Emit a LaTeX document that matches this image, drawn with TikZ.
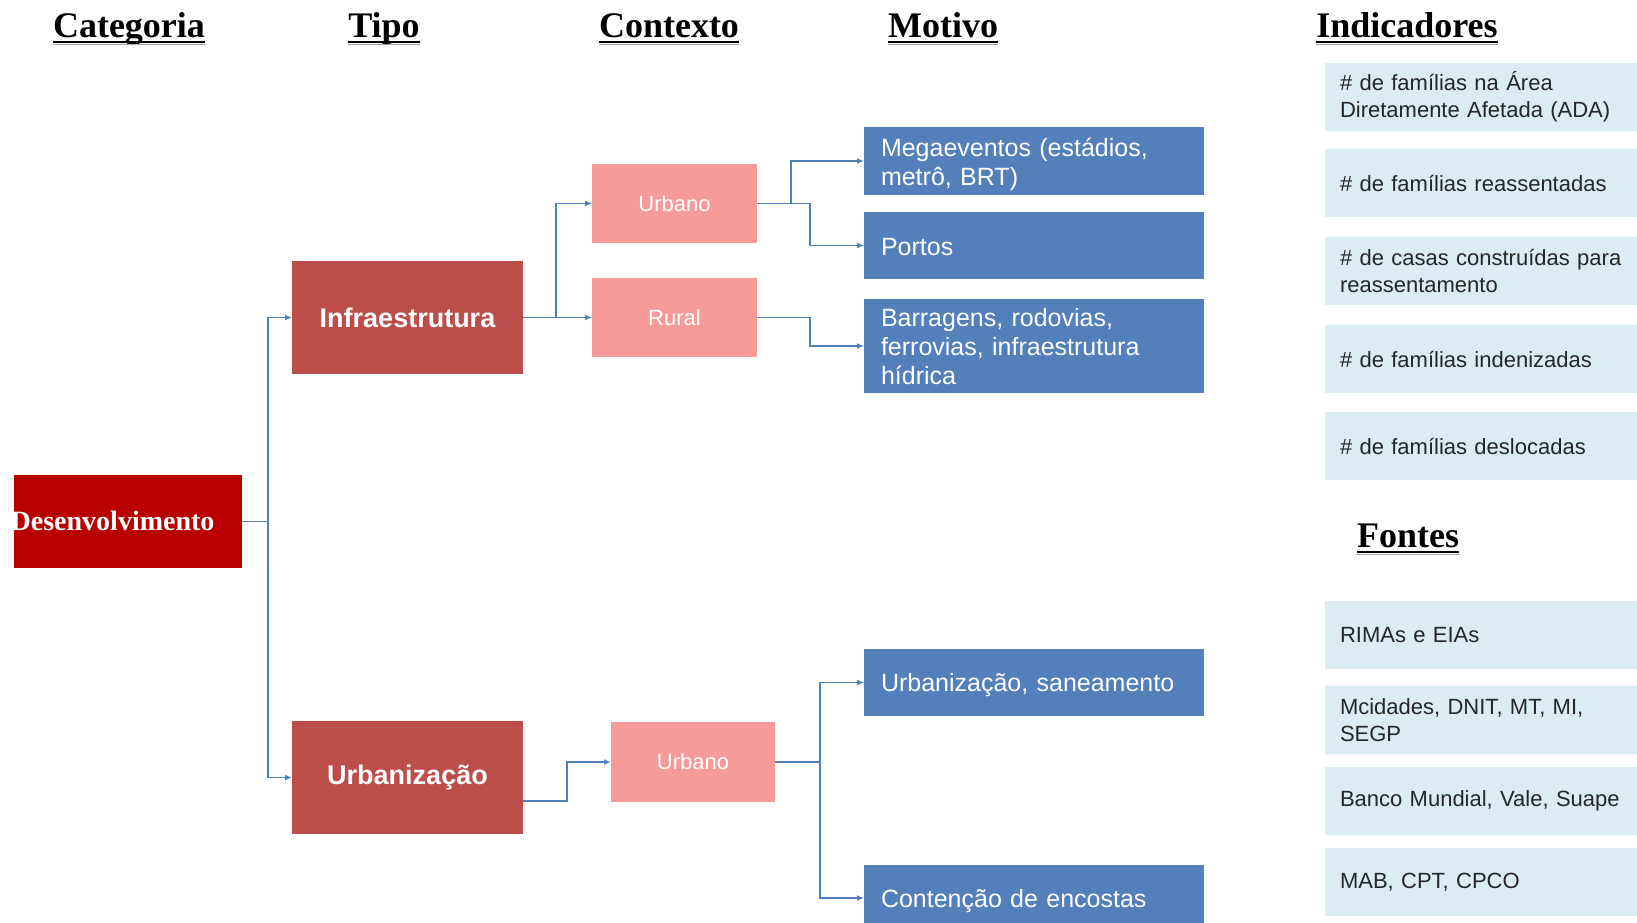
\documentclass[tikz,border=0pt]{standalone}
\usepackage{fontspec}
\setmainfont{Liberation Serif}
\setsansfont{Liberation Sans}
\usetikzlibrary{arrows.meta}
\definecolor{cdes}{HTML}{B80000}
\definecolor{ctipo}{HTML}{BB4D4B}
\definecolor{cctx}{HTML}{F69A9A}
\definecolor{cmot}{HTML}{5380BB}
\definecolor{cind}{HTML}{DBEDF3}
\definecolor{cline}{HTML}{4F7FBD}
\begin{document}
\begin{tikzpicture}[x=1pt,y=-1pt,
 box/.style={draw=none, inner sep=0pt, outer sep=0pt},
 hdr/.style={font=\bfseries\fontsize{36}{40}\selectfont, inner sep=0pt, anchor=base},
 uline/.style={line width=2.5pt, black},
 ushadow/.style={line width=1.5pt, black!35},
 desbox/.style={box, fill=cdes, minimum width=228pt, minimum height=93pt},
 tipo/.style={box, fill=ctipo, minimum width=231pt, minimum height=113pt, text=white, font=\sffamily\bfseries\fontsize{27}{31}\selectfont},
 ctx/.style={box, fill=cctx, minimum width=165pt, minimum height=79pt, text=white, font=\sffamily\fontsize{22}{26}\selectfont},
 mot/.style={box, fill=cmot, minimum width=340pt},
 mottxt/.style={inner sep=0pt, text width=306pt, align=left, text=white, font=\sffamily\fontsize{25}{29}\selectfont},
 ind/.style={box, fill=cind, text width=320pt, inner xsep=15pt, minimum height=68pt, align=left, text=black!85, font=\sffamily\fontsize{22}{27}\selectfont},
 conn/.style={cline, line width=1.5pt, -{Latex[length=7pt,width=6pt]}},
]
\useasboundingbox (0,0) rectangle (1637,922);
\clip (0,0) rectangle (1637,922);

% headers
\node[hdr] (h1) at (129,37) {Categoria};
\node[hdr] (h2) at (384,37) {Tipo};
\node[hdr] (h3) at (669,37) {Contexto};
\node[hdr] (h4) at (943,37) {Motivo};
\node[hdr] (h5) at (1407,37) {Indicadores};
\node[hdr] (h6) at (1408,547) {Fontes};
\foreach \h in {h1,h2,h3,h4,h5,h6}{
  \draw[ushadow] ([yshift=-7.5pt]\h.base west) -- ([yshift=-7.5pt]\h.base east);
  \draw[uline] ([yshift=-5pt]\h.base west) -- ([yshift=-5pt]\h.base east);
}

% categoria
\node[desbox] (des) at (128,521.5) {};
\begin{scope}
  \clip (des.south west) rectangle (des.north east);
  \node[inner sep=0pt, anchor=base west, text=white, font=\bfseries\fontsize{28}{32}\selectfont] (destxt) at (10.5,530.5) {Desenvolvimento};
\end{scope}

% tipo
\node[tipo] (infra) at (407.5,317.5) {Infraestrutura};
\node[tipo] (urbz) at (407.5,777.5) {Urbanização};

% contexto
\node[ctx] (ctx1) at (674.5,203.5) {Urbano};
\node[ctx] (ctx2) at (674.5,317.5) {Rural};
\node[ctx, minimum width=164pt, minimum height=80pt] (ctx3) at (693,762) {Urbano};

% motivo
\node[mot, minimum height=68pt] (mega) at (1034,161) {};
\node[mottxt] (megat) at ([yshift=-3pt]mega.center) {Megaeventos (estádios,\\metrô, BRT)};
\node[mot, minimum height=67pt] (portos) at (1034,245.5) {};
\node[mottxt] (portost) at ([yshift=-2pt]portos.center) {Portos};
\node[mot, minimum height=94pt] (barr) at (1034,346) {};
\node[mottxt] (barrt) at ([yshift=-1pt]barr.center) {Barragens, rodovias,\\ferrovias, infraestrutura\\hídrica};
\node[mot, minimum height=67pt] (san) at (1034,682.5) {};
\node[mottxt] (sant) at ([yshift=-3pt]san.center) {Urbanização, saneamento};
\node[mot, minimum height=66pt] (cont) at (1034,898) {};
\node[mottxt] (contt) at ([yshift=-3pt]cont.center) {Contenção de encostas};

% indicadores
\node[ind] (i1) at (1500,97) {\# de famílias na Área\\Diretamente Afetada (ADA)};
\node[ind] (i2) at (1500,183) {\# de famílias reassentadas};
\node[ind] (i3) at (1500,271) {\# de casas construídas para\\reassentamento};
\node[ind] (i4) at (1500,359) {\# de famílias indenizadas};
\node[ind] (i5) at (1500,446) {\# de famílias deslocadas};

% fontes
\node[ind] (f1) at (1500,635) {RIMAs e EIAs};
\node[ind] (f2) at (1500,720) {Mcidades, DNIT, MT, MI,\\SEGP};
\node[ind] (f3) at (1500,801) {Banco Mundial, Vale, Suape};
\node[ind] (f4) at (1500,882) {MAB, CPT, CPCO};

% connectors
\draw[conn] (des.east) -- ++(26,0) |- (infra.west);
\draw[conn] (des.east) -- ++(26,0) |- (urbz.west);
\draw[conn] (infra.east) -- ++(33,0) |- (ctx1.west);
\draw[conn] (infra.east) -- (ctx2.west);
\draw[conn] (ctx1.east) -- ++(34,0) |- (mega.west);
\draw[conn] (ctx1.east) -- ++(53,0) |- (portos.west);
\draw[conn] (ctx2.east) -- ++(53,0) |- (barr.west);
\coordinate (uo) at ([yshift=-23.5pt]urbz.east);
\draw[conn] (uo) -- ++(44,0) |- (ctx3.west);
\draw[conn] (ctx3.east) -- ++(45,0) |- (san.west);
\draw[conn] (ctx3.east) -- ++(45,0) |- (cont.west);
\end{tikzpicture}
\end{document}
